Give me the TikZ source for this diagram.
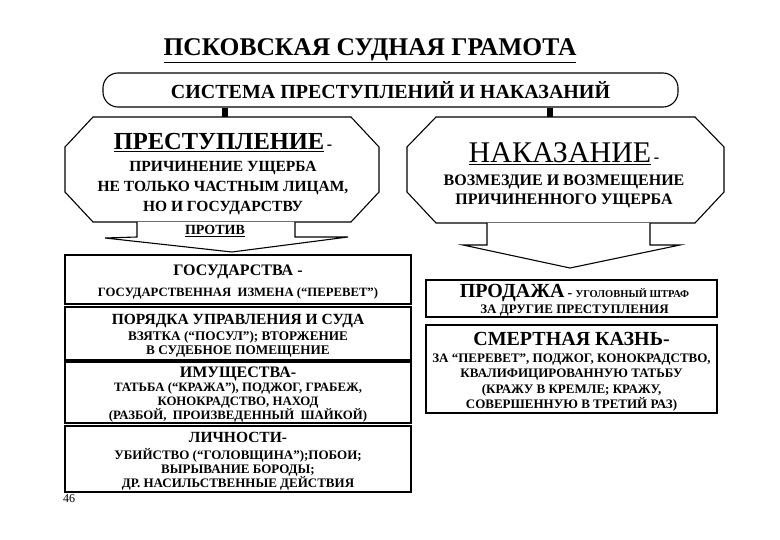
\documentclass[tikz,border=0pt]{standalone}
\usepackage{fontspec}
\setmainfont{Liberation Serif}
\usepackage{tikz}
\usetikzlibrary{positioning}

\begin{document}
\begin{tikzpicture}[
        x=1pt, y=-1pt,
        every node/.style={font=\bfseries, inner sep=0pt},
        frame/.style={draw, line width=1.1pt, fill=white, line join=miter},
        panel/.style={draw, line width=1.1pt, rectangle},
        leftbox/.style={panel, minimum width=346pt},
        rightbox/.style={panel, minimum width=291pt},
        boxtext/.style={align=center},
        link/.style={draw, line width=6pt},
    ]
        \useasboundingbox (0,0) rectangle (780,540);

        \node[font=\bfseries\fontsize{25.5}{28}\selectfont] (title) at (370,51)
            {\underline{ПСКОВСКАЯ СУДНАЯ ГРАМОТА}};
        \node[draw, line width=1.1pt, rounded corners=15pt, minimum width=575pt,
            minimum height=34pt, font=\bfseries\fontsize{20}{24}\selectfont] (sys)
            at (390.5,90) {СИСТЕМА ПРЕСТУПЛЕНИЙ И НАКАЗАНИЙ};

        \draw[frame] (93,117) -- (351,117) -- (379,147) -- (379,192) -- (351,222)
            -- (93,222) -- (65,192) -- (65,147) -- cycle;
        \draw[frame] (436,117) -- (695,117) -- (724,147) -- (724,192) -- (695,223)
            -- (436,223) -- (407,192) -- (407,147) -- cycle;
        \coordinate (crimetop) at (225,117);
        \coordinate (punishtop) at (550,117);
        \draw[link] (sys.south -| crimetop) -- (crimetop);
        \draw[link] (sys.south -| punishtop) -- (punishtop);

        \node[boxtext, font=\bfseries\fontsize{15.5}{20}\selectfont] (crime) at (223,174)
            {{\fontsize{24.5}{20}\selectfont\underline{ПРЕСТУПЛЕНИЕ}}\,{\fontsize{16}{20}\selectfont -}\\[2pt]
             ПРИЧИНЕНИЕ УЩЕРБА\\
             НЕ ТОЛЬКО ЧАСТНЫМ ЛИЦАМ,\\
             НО И ГОСУДАРСТВУ};
        \node[boxtext, font=\bfseries\fontsize{16}{19}\selectfont] (punish) at (564,175)
            {{\mdseries\fontsize{30}{19}\selectfont\underline{НАКАЗАНИЕ}}\,{\fontsize{16}{19}\selectfont -}\\[4pt]
             ВОЗМЕЗДИЕ И ВОЗМЕЩЕНИЕ\\
             ПРИЧИНЕННОГО УЩЕРБА};

        \draw[frame] (137,222) -- (137,237) -- (105,238) -- (232,252) -- (348,237)
            -- (295,237) -- (295,222);
        \draw[frame] (487,223) -- (487,245) -- (463,245) -- (570,268) -- (680,245)
            -- (650,245) -- (650,223);
        \node[font=\bfseries\fontsize{14}{16}\selectfont] (against) at (215,231)
            {\underline{ПРОТИВ}};

        \node[leftbox, minimum height=49pt] (state) at (238,279.5) {};
        \node[boxtext, font=\bfseries\fontsize{12.7}{20.5}\selectfont] (statetext)
            at ([yshift=-2.5pt]state.center)
            {{\fontsize{16}{20.5}\selectfont ГОСУДАРСТВА -}\\
             ГОСУДАРСТВЕННАЯ\ \ ИЗМЕНА (“ПЕРЕВЕТ”)};
        \node[leftbox, minimum height=53pt] (court) at (238,333.5) {};
        \node[boxtext, font=\bfseries\fontsize{13.2}{14.5}\selectfont] (courttext)
            at ([yshift=-2.5pt]court.center)
            {{\fontsize{15.5}{14.5}\selectfont ПОРЯДКА УПРАВЛЕНИЯ И СУДА}\\[1pt]
             ВЗЯТКА (“ПОСУЛ”); ВТОРЖЕНИЕ\\
             В СУДЕБНОЕ ПОМЕЩЕНИЕ};
        \node[leftbox, minimum height=61pt] (property) at (238,392.5) {};
        \node[boxtext, font=\bfseries\fontsize{12.8}{14}\selectfont] (propertytext)
            at ([yshift=-2pt]property.center)
            {{\fontsize{16}{14}\selectfont ИМУЩЕСТВА-}\\[0.5pt]
             ТАТЬБА (“КРАЖА”), ПОДЖОГ, ГРАБЕЖ,\\
             КОНОКРАДСТВО, НАХОД\\
             (РАЗБОЙ,\ \ ПРОИЗВЕДЕННЫЙ\ \ ШАЙКОЙ)};
        \node[leftbox, minimum height=66pt] (person) at (238,459) {};
        \node[boxtext, font=\bfseries\fontsize{13}{13.2}\selectfont] (persontext)
            at ([yshift=-2.5pt]person.center)
            {{\fontsize{15.5}{13.2}\selectfont ЛИЧНОСТИ-}\\[4pt]
             УБИЙСТВО (“ГОЛОВЩИНА”);ПОБОИ;\\
             ВЫРЫВАНИЕ БОРОДЫ;\\
             ДР. НАСИЛЬСТВЕННЫЕ ДЕЙСТВИЯ};

        \node[rightbox, minimum height=37pt] (sale) at (571.5,298.5) {};
        \node[boxtext, font=\bfseries\fontsize{13}{16}\selectfont] (saletext)
            at ([xshift=3pt, yshift=-2pt]sale.center)
            {{\fontsize{20}{16}\selectfont ПРОДАЖА}\ {\fontsize{14}{16}\selectfont -}\ {\fontsize{10.5}{16}\selectfont УГОЛОВНЫЙ ШТРАФ}\\
             ЗА ДРУГИЕ ПРЕСТУПЛЕНИЯ};
        \node[rightbox, minimum height=88pt] (death) at (571.5,369) {};
        \node[boxtext, font=\bfseries\fontsize{13}{15.3}\selectfont] (deathtext)
            at ([yshift=-2.5pt]death.center)
            {{\fontsize{20}{15.3}\selectfont СМЕРТНАЯ КАЗНЬ-}\\[2pt]
             ЗА “ПЕРЕВЕТ”, ПОДЖОГ, КОНОКРАДСТВО,\\
             КВАЛИФИЦИРОВАННУЮ ТАТЬБУ\\
             (КРАЖУ В КРЕМЛЕ; КРАЖУ,\\
             СОВЕРШЕННУЮ В ТРЕТИЙ РАЗ)};

        \node[font=\fontsize{12}{14}\selectfont, anchor=west] (page) at (63,499) {46};
    \end{tikzpicture}
\end{document}
